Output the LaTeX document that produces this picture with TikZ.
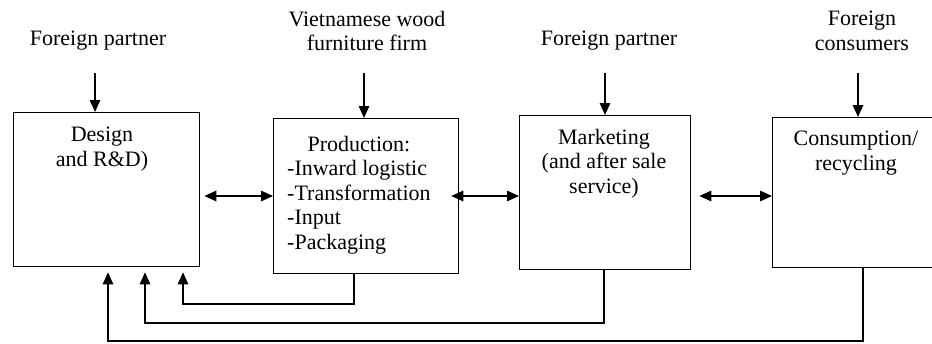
\documentclass[tikz,border=0pt]{standalone}
\usepackage{fontspec}
\setmainfont{Liberation Serif}
\usetikzlibrary{arrows.meta}
\begin{document}
\begin{tikzpicture}[x=1pt,y=-1pt,
  box/.style={draw, line width=1.3pt, inner sep=0pt, anchor=north west},
  lbl/.style={font=\fontsize{22}{24.5}\selectfont, inner sep=0pt, align=center, anchor=north},
  tip/.tip={Triangle[length=12pt,width=10.5pt]},
  con/.style={line width=1.3pt, -tip},
  dcon/.style={line width=1.3pt, tip-tip},
  ]
\useasboundingbox (0,0) rectangle (932,343);

% boxes
\node[box, minimum width=186pt, minimum height=154pt] (b1) at (13,112) {};
\node[box, minimum width=185pt, minimum height=155pt] (b2) at (273,118) {};
\node[box, minimum width=171pt, minimum height=154pt] (b3) at (519,115) {};
\node[box, minimum width=175pt, minimum height=150pt] (b4) at (772,117) {};

% box texts
\node[lbl] (b1t) at (102,127) {Design\\and R\&D)};
\node[lbl, anchor=north west] (b2t) at (287,134)
  {\begin{tabular}{@{}l@{}}\multicolumn{1}{@{}c@{}}{Production:}\\-Inward logistic\\-Transformation\\-Input\\-Packaging\end{tabular}};
\node[lbl] (b3t) at (604,129) {Marketing\\(and after sale\\service)};
\node[lbl] (b4t) at (856,131) {Consumption/\\recycling};

% top labels
\node[lbl] (t1) at (98,31) {Foreign partner};
\node[lbl] (t2) at (367,11) {Vietnamese wood\\furniture firm};
\node[lbl] (t3) at (609,31) {Foreign partner};
\node[lbl] (t4) at (862,11) {Foreign\\consumers};

\coordinate (ytop) at (0,73);
\coordinate (hrow) at (0,196);

% down arrows
\draw[con] (95,73 |- ytop) -- (b1.north -| 95,0);
\draw[con] (364,73 |- ytop) -- (b2.north -| 364,0);
\draw[con] (605,73 |- ytop) -- (b3.north -| 605,0);
\draw[con] (858,73 |- ytop) -- (b4.north -| 858,0);

% horizontal double arrows
\draw[dcon] ([xshift=4pt]b1.east |- hrow) -- (b2.west |- hrow);
\draw[dcon] ([xshift=-8pt]b2.east |- hrow) -- (b3.west |- hrow);
\draw[dcon] ([xshift=8pt]b3.east |- hrow) -- (b4.west |- hrow);

% feedback loops
\draw[con] (b2.south -| 354,0) |- (183,304) -- ([yshift=-5pt]b1.south -| 183,0);
\draw[con] (b3.south -| 604,0) |- (145,323) -- ([yshift=-5pt]b1.south -| 145,0);
\draw[con] (b4.south -| 863,0) |- (108,341) -- ([yshift=-5pt]b1.south -| 108,0);
\end{tikzpicture}
\end{document}
